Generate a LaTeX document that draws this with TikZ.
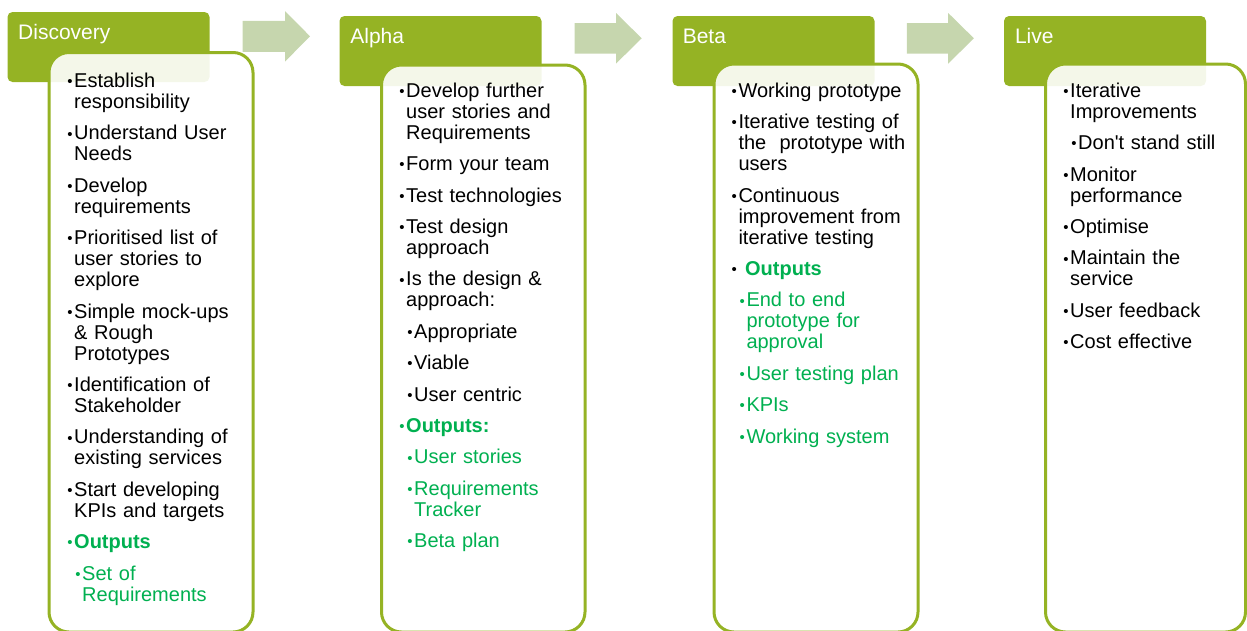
\documentclass[tikz,border=0pt]{standalone}
\usepackage{fontspec}
\setmainfont{Liberation Sans}
\definecolor{hdr}{RGB}{149,179,36}
\definecolor{arr}{RGB}{198,214,174}
\definecolor{outg}{RGB}{0,176,80}
\newlength\itemgap
\setlength\itemgap{10.4pt}
\newcommand\nl{\hfil\break}
\newcommand\bodyfont{\fontsize{20}{21}\selectfont}
\newcommand\bul{\makebox[7.5pt][l]{\hspace{0.6pt}\raisebox{0.8pt}{\scalebox{0.75}{\textbullet}}}}
\newcommand\FirstL[2][black]{\noindent\hangindent=7.5pt\hangafter=1\strut\textcolor{#1}{\bul#2}\par}
\newcommand\Li[2][black]{\vskip\itemgap\noindent\hangindent=7.5pt\hangafter=1\textcolor{#1}{\bul#2}\par}
\newcommand\Lii[2][black]{\vskip\itemgap\noindent\hangindent=15.5pt\hangafter=1\hspace*{8pt}\textcolor{#1}{\bul#2}\par}
\tikzset{
  hdrbox/.style={fill=hdr, rounded corners=5pt},
  bodybox/.style={draw=hdr, line width=3pt, fill=white, fill opacity=0.9, rounded corners=20pt},
  blockarrow/.style={fill=arr},
  hdrtext/.style={anchor=base west, inner sep=0pt, text=white, font=\fontsize{21}{25}\selectfont},
  bodytext/.style={anchor=north west, inner sep=0pt, text width=190pt, font=\bodyfont,
    execute at begin node={\parskip=0pt\parindent=0pt}},
}
\begin{document}
\begin{tikzpicture}[x=1pt,y=-1pt]
\useasboundingbox (0,0) rectangle (1247,630);
% arrows
\fill[blockarrow] (242.5,20.8) -- (285,20.8) -- (285,11) -- (310,36.3) -- (285,61.6) -- (285,51.8) -- (242.5,51.8) -- cycle;
\fill[blockarrow] (574.7,23) -- (616,23) -- (616,13) -- (641.7,38.3) -- (616,63.6) -- (616,53.6) -- (574.7,53.6) -- cycle;
\fill[blockarrow] (906.9,23) -- (948.2,23) -- (948.2,13) -- (973.9,38.3) -- (948.2,63.6) -- (948.2,53.6) -- (906.9,53.6) -- cycle;
% headers
\fill[hdrbox] (7.5,12) rectangle (209.5,82);
\fill[hdrbox] (339.5,16) rectangle (541.5,86);
\fill[hdrbox] (672.5,16) rectangle (874.5,86);
\fill[hdrbox] (1004,16) rectangle (1206,86);
% boxes
\draw[bodybox] (49,52.5) rectangle (253,632);
\draw[bodybox] (381.5,65) rectangle (585,632);
\draw[bodybox] (714,64) rectangle (918,632);
\draw[bodybox] (1045.5,64) rectangle (1245.5,632);
% header texts
\node[hdrtext] (h1) at (18,39.3) {Discovery};
\node[hdrtext] (h2) at (350.2,43.3) {Alpha};
\node[hdrtext] (h3) at (682.6,43.3) {Beta};
\node[hdrtext] (h4) at (1014.8,43.3) {Live};
% body texts
\node[bodytext] (t1) at (66.5,72.6) {%
\FirstL{Establish\nl responsibility}
\Li{Understand User\nl Needs}
\Li{Develop\nl requirements}
\Li{Prioritised list of\nl user stories to\nl explore}
\Li{Simple mock-ups\nl \& Rough\nl Prototypes}
\Li{Identification of\nl Stakeholder}
\Li{Understanding of\nl existing services}
\Li{Start developing\nl KPIs and targets}
\Li[outg]{\textbf{Outputs}}
\Lii[outg]{Set of\nl Requirements}};
\node[bodytext] (t2) at (398.5,82.3) {%
\FirstL{Develop further\nl user stories and\nl Requirements}
\Li{Form your team}
\Li{Test technologies}
\Li{Test design\nl approach}
\Li{Is the design \&\nl approach:}
\Lii{Appropriate}
\Lii{Viable}
\Lii{User centric}
\Li[outg]{\textbf{Outputs:}}
\Lii[outg]{User stories}
\Lii[outg]{Requirements\nl Tracker}
\Lii[outg]{Beta plan}};
\node[bodytext] (t3) at (730.8,82.3) {%
\FirstL{Working prototype}
\Li{Iterative testing of\nl the\ \ prototype with\nl users}
\Li{Continuous\nl improvement from\nl iterative testing}
\Li{\ \textcolor{outg}{\textbf{Outputs}}}
\Lii[outg]{End to end\nl prototype for\nl approval}
\Lii[outg]{User testing plan}
\Lii[outg]{KPIs}
\Lii[outg]{Working system}};
\node[bodytext, text width=175pt] (t4) at (1062.5,82.3) {%
\FirstL{Iterative\nl Improvements}
\Lii{Don\textquotesingle t stand still}
\Li{Monitor\nl performance}
\Li{Optimise}
\Li{Maintain the\nl service}
\Li{User feedback}
\Li{Cost effective}};
\end{tikzpicture}
\end{document}
